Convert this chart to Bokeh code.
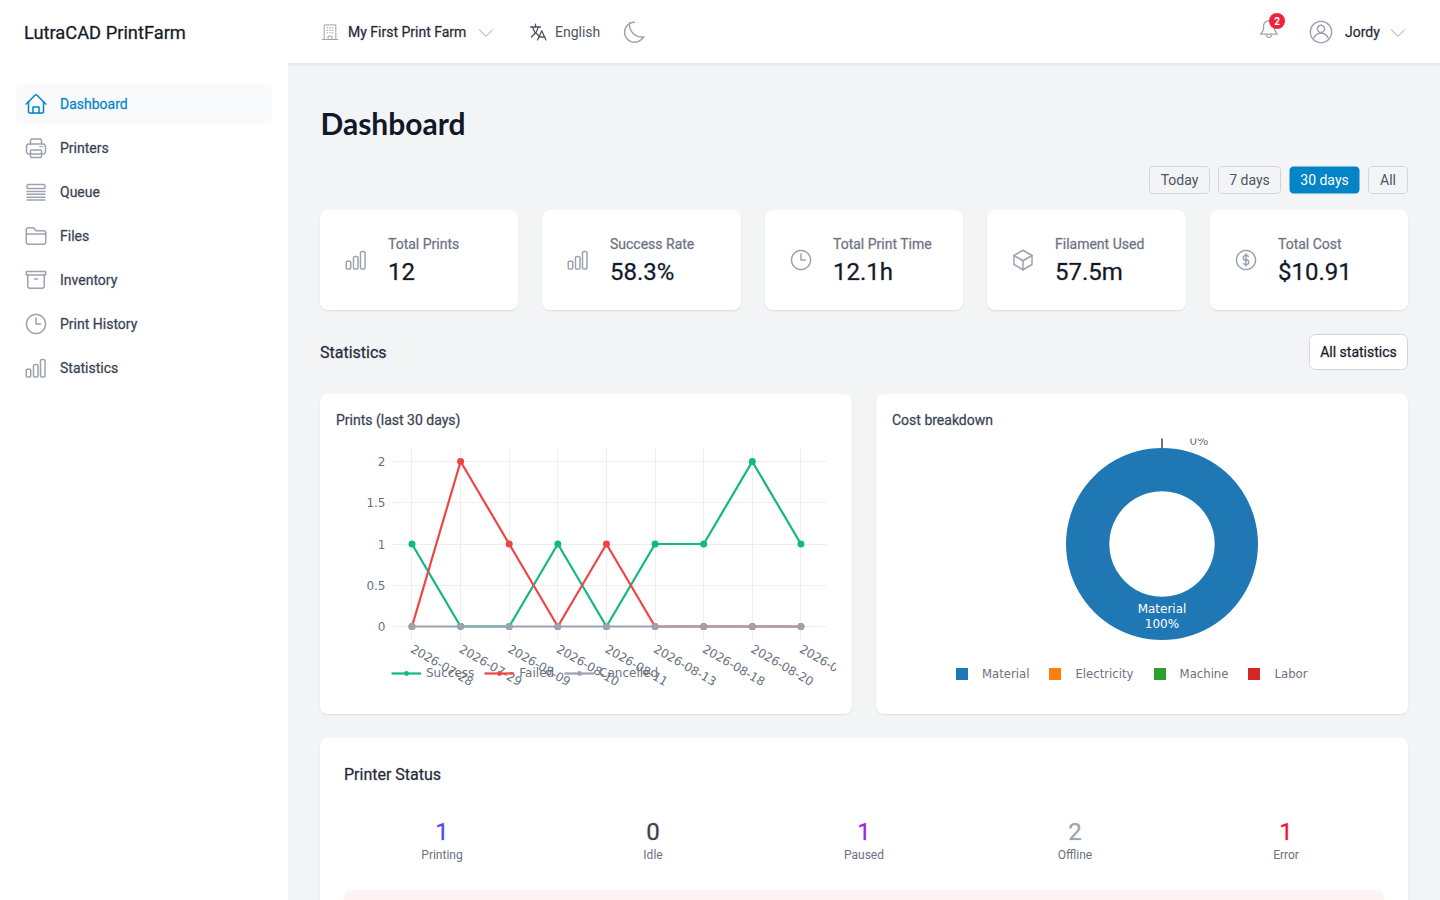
import math
from bokeh.embed import file_html
from bokeh.resources import INLINE
from bokeh.layouts import column
from bokeh.core.properties import value
from bokeh.models import Range1d, FixedTicker, Legend, LegendItem
from bokeh.plotting import figure

# ---------- data ----------
dates = ["2026-07-28", "2026-07-29", "2026-08-09", "2026-08-10", "2026-08-11",
         "2026-08-13", "2026-08-18", "2026-08-20", "2026-08-25"]
success = [1, 0, 0, 1, 0, 1, 1, 2, 1]
failed = [0, 2, 1, 0, 1, 0, 0, 0, 0]
cancelled = [0, 0, 0, 0, 0, 0, 0, 0, 0]
y_ticks = [0, 0.5, 1, 1.5, 2]
y_tick_labels = ["0", "0.5", "1", "1.5", "2"]

cost_categories = ["Material", "Electricity", "Machine", "Labor"]
cost_shares = [100, 0, 0, 0]
cost_colors = ["#1f77b4", "#ff7f0e", "#2ca02c", "#d62728"]

nav_items = ["Dashboard", "Printers", "Queue", "Files", "Inventory", "Print History", "Statistics"]
nav_icons = ["home", "printer", "queue", "folder", "archive", "clock", "chart"]
stat_labels = ["Total Prints", "Success Rate", "Total Print Time", "Filament Used", "Total Cost"]
stat_values = ["12", "58.3%", "12.1h", "57.5m", "$10.91"]
stat_icons = ["chart", "chart", "clock", "cube", "dollar"]
range_buttons = ["Today", "7 days", "30 days", "All"]
status_labels = ["Printing", "Idle", "Paused", "Offline", "Error"]
status_counts = [1, 0, 1, 2, 1]
status_colors = ["#5046f5", "#374151", "#9b1ff0", "#9ca3af", "#f0103c"]

# ---------- style ----------
UI = "Roboto"
PLOT = "DejaVu Sans"
TICK = "#6b7280"
BLUE = "#0284c7"
ICON = "#9ca3af"


def holder(fig, left, top, extra=None):
    """Own column per figure: figures in one column would have their frames aligned."""
    return column(fig, width=fig.width, height=fig.height,
                  styles={"position": "absolute", "left": f"{left}px", "top": f"{top}px", **(extra or {})})


# ---------- shape helpers ----------
def arc(cx, cy, r, a0, a1, n=28):
    return [(cx + r * math.cos(math.radians(a0 + (a1 - a0) * i / n)),
             cy + r * math.sin(math.radians(a0 + (a1 - a0) * i / n))) for i in range(n + 1)]


def rr(x0, y0, x1, y1, r):
    return (arc(x1 - r, y0 + r, r, -90, 0, 8) + arc(x1 - r, y1 - r, r, 0, 90, 8)
            + arc(x0 + r, y1 - r, r, 90, 180, 8) + arc(x0 + r, y0 + r, r, 180, 270, 8)
            + [(x1 - r, y0)])


ICONS = {
    "home": [[(2.25, 12), (11.2, 3.05), (12.8, 3.05), (21.75, 12)],
             [(4.5, 9.75), (4.5, 20), (5.5, 21), (18.5, 21), (19.5, 20), (19.5, 9.75)],
             [(9, 21), (9, 15), (15, 15), (15, 21)]],
    "printer": [rr(2.5, 8, 21.5, 18, 2.5),
                [(6.5, 8), (6.5, 4), (7.5, 3), (16.5, 3), (17.5, 4), (17.5, 8)],
                rr(6.5, 14, 17.5, 21.5, 1),
                [(16, 10.5), (16.5, 10.5)], [(18.2, 10.5), (18.7, 10.5)]],
    "queue": [rr(3, 4.5, 21, 8.5, 1.2), [(3, 11.5), (21, 11.5)], [(3, 14.3), (21, 14.3)],
              [(3, 17.2), (21, 17.2)], [(3, 20), (21, 20)]],
    "folder": [[(3.75, 3.75), (9.4, 3.75), (12, 6.75), (20.25, 6.75), (21.75, 8.25), (21.75, 18.75),
                (20.25, 20.25), (3.75, 20.25), (2.25, 18.75), (2.25, 5.25), (3.75, 3.75)],
               [(2.25, 10), (21.75, 10)]],
    "archive": [rr(2.25, 3.4, 21.75, 7, 0.8),
                [(3.75, 7), (3.75, 18.75), (5.25, 20.25), (18.75, 20.25), (20.25, 18.75), (20.25, 7)],
                [(10.5, 11), (13.5, 11)]],
    "clock": [arc(12, 12, 9.5, 0, 360, 48), [(12, 6), (12, 12), (16.5, 12)]],
    "chart": [rr(2.25, 13.2, 6.75, 21, 1.2), rr(9.5, 8.6, 14, 21, 1.2), rr(16.5, 3.6, 21, 21, 1.2)],
    "cube": [[(12, 2.25), (21, 7.5), (21, 16.5), (12, 21.75), (3, 16.5), (3, 7.5), (12, 2.25)],
             [(3, 7.5), (12, 12.75), (21, 7.5)], [(12, 12.75), (12, 21.75)]],
    "dollar": [arc(12, 12, 9.5, 0, 360, 48), [(12, 6), (12, 18)],
               arc(12, 9.9, 2.7, -30, -270, 14) + arc(12, 14.1, 2.7, -90, 150, 14)],
    "building": [[(5, 21), (5, 3.5), (19, 3.5), (19, 21)], [(3, 21), (21, 21)],
                 [(9.7, 21), (9.7, 17), (14.3, 17), (14.3, 21)],
                 [(8.5, 7), (9.3, 7)], [(11.6, 7), (12.4, 7)], [(14.7, 7), (15.5, 7)],
                 [(8.5, 10), (9.3, 10)], [(11.6, 10), (12.4, 10)], [(14.7, 10), (15.5, 10)],
                 [(8.5, 13), (9.3, 13)], [(11.6, 13), (12.4, 13)], [(14.7, 13), (15.5, 13)]],
    "lang": [[(3, 6), (15, 6)], [(9, 2.5), (9, 6)], [(12.5, 6), (10, 12), (4, 18)],
             [(5.5, 6), (8, 12), (12.5, 16)], [(11.5, 21.5), (16.5, 10.5), (21.5, 21.5)], [(13, 18), (20, 18)]],
    "moon": [arc(11.6, 12.2, 10, -92, 42 - 360, 40)
             + arc(19, 4.5, 12.5, 82, 188, 24)[::1]],
    "bell": [arc(12, 9, 6, 180, 360, 20) + [(18, 13), (21, 17.5), (3, 17.5), (6, 13), (6, 9)],
             arc(12, 18.5, 2.7, 0, 180, 10)],
    "user": [arc(12, 12, 10.2, 0, 360, 60), arc(12, 9, 3.4, 0, 360, 30),
             arc(12, 20.5, 7.4, 205, 335, 20)],
    "chevron": [[(2, 7), (12, 17), (22, 7)]],
}

# ---------- page background figure ----------
bg = figure(width=1440, height=900, frame_width=1440, frame_height=900,
            x_range=Range1d(0.5, 1440.5), y_range=Range1d(900.5, 0.5),
            x_axis_type=None, y_axis_type=None,
            output_backend="svg", toolbar_location=None,
            min_border_left=0, min_border_right=0, min_border_top=0, min_border_bottom=0,
            background_fill_color="#f3f4f6", border_fill_color=None)
bg.outline_line_color = None


def fill(pts, color, alpha=1.0, line=None):
    bg.patch([p[0] for p in pts], [p[1] for p in pts], fill_color=color, fill_alpha=alpha,
             line_color=line, line_width=1)


def stroke(pts, color, w=1.5):
    bg.line([p[0] for p in pts], [p[1] for p in pts], line_color=color, line_width=w,
            line_cap="round", line_join="round")


def icon(name, x, y, size, color, w=1.5):
    s = size / 24
    for prim in ICONS[name]:
        stroke([(x + px * s, y + py * s) for px, py in prim], color, w)


def card(x0, y0, x1, y1, r=8):
    fill(rr(x0 - 1, y0, x1 + 1, y1 + 2, r + 1), "#000000", 0.025)
    fill(rr(x0, y0, x1, y1 + 1, r), "#000000", 0.04)
    fill(rr(x0, y0, x1, y1, r), "#ffffff")


def label(x, y, txt, size, color, font=UI, align="left", style="normal", medium=False):
    extra = {"text_outline_color": color + "40"} if medium else {}
    bg.text([x], [y], text=[txt], text_font=value(font), text_font_size=f"{size}px", text_color=color,
            text_align=align, text_baseline="middle", text_font_style=style, **extra)


# sidebar + top bar
fill([(0, 0), (288, 0), (288, 902), (0, 902)], "#ffffff")
fill([(288, 63), (1442, 63), (1442, 66), (288, 66)], "#000000", 0.02)
fill([(288, 63), (1442, 63), (1442, 64.5), (288, 64.5)], "#000000", 0.035)
fill([(0, 0), (1442, 0), (1442, 63), (0, 63)], "#ffffff")

label(24, 32, "LutraCAD PrintFarm", 18.3, "#111827", medium=True)
icon("building", 320, 22, 20, ICON, 1)
label(348, 31.5, "My First Print Farm", 14, "#1f2937", medium=True)
icon("chevron", 478, 25, 16, ICON, 1)
icon("lang", 528, 22, 20, "#4b5563", 1.3)
label(555, 31.5, "English", 14, "#4b5563")
icon("moon", 623, 20, 24, ICON, 1.5)
icon("bell", 1258, 18, 22, ICON, 1.3)
bg.scatter([1277], [21], size=16, fill_color="#ef233c", line_color=None)
label(1277, 21, "2", 10, "#ffffff", UI, "center", "bold")
icon("user", 1308.5, 19.5, 25, ICON, 1.5)
label(1345, 31.5, "Jordy", 14, "#1f2937", medium=True)
icon("chevron", 1390, 25, 16, ICON, 1)

# navigation
fill(rr(16, 84, 272, 124, 8), "#f9fafb")
for i, (nav, ic) in enumerate(zip(nav_items, nav_icons)):
    yc = 103.5 + 44 * i
    active = i == 0
    icon(ic, 24, yc - 11.5, 24, BLUE if active else ICON, 1.5)
    label(60, yc, nav, 14, BLUE if active else "#374151", medium=True)

label(320.5, 122.5, "Dashboard", 30, "#111827", "Lato", style="bold")

# date range buttons
btn_x = [(1149, 1210), (1218, 1281), (1289, 1360), (1368, 1408)]
for (x0, x1), txt in zip(btn_x, range_buttons):
    on = txt == "30 days"
    fill(rr(x0 + .5, 166.5, x1 - .5, 193.5, 4), BLUE if on else "#f3f4f6", 1, None if on else "#d1d5db")
    label((x0 + x1) / 2, 179.5, txt, 14, "#ffffff" if on else "#4b5563", UI, "center")

# stat cards
stat_x = [(320, 518), (542, 741), (765, 963), (987, 1186), (1210, 1408)]
for (x0, x1), lab, val, ic in zip(stat_x, stat_labels, stat_values, stat_icons):
    card(x0, 210, x1, 310)
    icon(ic, x0 + 24, 248, 24, ICON, 1.5)
    label(x0 + 68, 243.5, lab, 14, "#6b7280", medium=True)
    label(x0 + 68, 271.5, val, 24, "#111827", medium=True)

# statistics header
label(320, 352, "Statistics", 16, "#1f2937", medium=True)
fill(rr(1309.5, 334.5, 1407.5, 369.5, 6), "#ffffff", 1, "#d1d5db")
label(1358.5, 351.5, "All statistics", 14, "#111827", align="center", medium=True)

# chart cards
card(320, 394, 852, 714)
card(876, 394, 1408, 714)
label(336, 419.5, "Prints (last 30 days)", 14, "#374151", medium=True)
label(892, 419.5, "Cost breakdown", 14, "#374151", medium=True)

# printer status
card(320, 738, 1408, 930)
label(344, 774, "Printer Status", 16, "#1f2937", medium=True)
status_x = [442, 653, 864, 1075, 1286]
for x, c, lab, col in zip(status_x, status_counts, status_labels, status_colors):
    label(x, 831.5, str(c), 24, col, align="center", medium=True)
    label(x, 854.5, lab, 12, "#6b7280", UI, "center")
fill(rr(344, 890, 1384, 930, 8), "#fef2f2")

# ---------- line chart: axes and grid ----------
idx = list(range(len(dates)))
chart = figure(width=560, height=262, frame_width=434, frame_height=192,
               x_range=Range1d(-0.401, 8.526), y_range=Range1d(-0.170, 2.158),
               output_backend="svg", toolbar_location=None,
               min_border_left=56, min_border_right=70, min_border_top=8, min_border_bottom=62,
               background_fill_color=None, border_fill_color=None)
chart.outline_line_color = None
chart.xgrid.grid_line_color = "#eeeeee"
chart.ygrid.grid_line_color = "#eeeeee"
chart.xaxis.ticker = FixedTicker(ticks=idx)
chart.yaxis.ticker = FixedTicker(ticks=y_ticks)
chart.xaxis.major_label_overrides = dict(zip(idx, dates))
chart.yaxis.major_label_overrides = dict(zip(y_ticks, y_tick_labels))
chart.xaxis.major_label_orientation = -math.radians(30)
for ax in (chart.xaxis, chart.yaxis):
    ax.axis_line_color = None
    ax.major_tick_line_color = None
    ax.minor_tick_line_color = None
    ax.major_label_text_font = PLOT
    ax.major_label_text_font_size = "12px"
    ax.major_label_text_color = TICK
    ax.major_tick_out = 0
chart.yaxis.major_label_standoff = 7
chart.xaxis.major_label_standoff = 7

# ---------- line chart: series and legend, same scale, frame reaches the legend row ----------
series = figure(width=500, height=262, frame_width=438, frame_height=252,
                x_range=Range1d(-0.483, 8.526), y_range=Range1d(-0.897, 2.158),
                x_axis_type=None, y_axis_type=None,
                output_backend="svg", toolbar_location=None,
                min_border_left=52, min_border_right=10, min_border_top=8, min_border_bottom=2,
                background_fill_color=None, border_fill_color=None)
series.outline_line_color = None
items = []
for name, vals, col in [("Success", success, "#10b981"), ("Failed", failed, "#ef4444"),
                        ("Cancelled", cancelled, "#9ca3af")]:
    ln = series.line(idx, vals, line_color=col, line_width=2.2)
    pt = series.scatter(idx, vals, size=7, fill_color=col, line_color=None)
    items.append(LegendItem(label=name, renderers=[ln, pt]))
chart_leg = Legend(items=items, orientation="horizontal", location=(3, 20), padding=0, margin=0,
                   spacing=10, glyph_width=30, glyph_height=12, label_height=12, label_standoff=5,
                   label_text_font=PLOT, label_text_font_size="12px", label_text_color=TICK,
                   background_fill_alpha=0, border_line_color=None)
series.add_layout(chart_leg, "center")

# ---------- donut ----------
donut = figure(width=500, height=270, frame_width=500, frame_height=270,
               x_range=Range1d(-269.5, 230.5), y_range=Range1d(-164.5, 105.5),
               x_axis_type=None, y_axis_type=None,
               output_backend="svg", toolbar_location=None,
               min_border_left=0, min_border_right=0, min_border_top=0, min_border_bottom=0,
               background_fill_color=None, border_fill_color=None)
donut.outline_line_color = None

angle = math.pi / 2
d_items = []
for cat, share, col in zip(cost_categories, cost_shares, cost_colors):
    sweep = 2 * math.pi * share / sum(cost_shares)
    # a slice of exactly zero or a full turn would be read as the whole ring by the arc routine
    sweep = min(max(sweep, 1e-5), 2 * math.pi - 1e-4)
    w = donut.annular_wedge([0], [0], inner_radius=52.7, outer_radius=96, start_angle=angle,
                            end_angle=angle - sweep, direction="clock", fill_color=col, line_color=None)
    d_items.append(LegendItem(label=cat, renderers=[w]))
    angle -= 2 * math.pi * share / sum(cost_shares)
donut_leg = Legend(items=d_items, orientation="horizontal", location=(62, 27), padding=0, margin=0,
                   spacing=18, glyph_width=15, glyph_height=15, label_height=15, label_standoff=13,
                   label_text_font=PLOT, label_text_font_size="11.7px", label_text_color=TICK,
                   background_fill_alpha=0, border_line_color=None)
donut.add_layout(donut_leg, "center")
donut.text([0], [-65], text=[cost_categories[0]], text_font=value(PLOT), text_font_size="12px", text_color="#ffffff",
           text_align="center", text_baseline="middle")
donut.text([0], [-80], text=[f"{cost_shares[0]}%"], text_font=value(PLOT), text_font_size="12px", text_color="#ffffff",
           text_align="center", text_baseline="middle")
donut.segment([0], [96], [0], [106], line_color="#6b7280", line_width=2)
donut.text([37], [103.5], text=[f"{cost_shares[1]}%"], text_font=value(PLOT), text_font_size="12px", text_color=TICK,
           text_align="center", text_baseline="middle")

root = column(holder(bg, 0, 0),
              holder(chart, 336, 440, {"clip-path": "inset(0px 60px 0px 0px)"}),
              holder(series, 336, 440),
              holder(donut, 892, 438),
              width=1440, height=900,
              styles={"position": "absolute", "left": "0px", "top": "0px", "overflow": "hidden"})
open("out.html", "w").write(file_html(root, INLINE))
